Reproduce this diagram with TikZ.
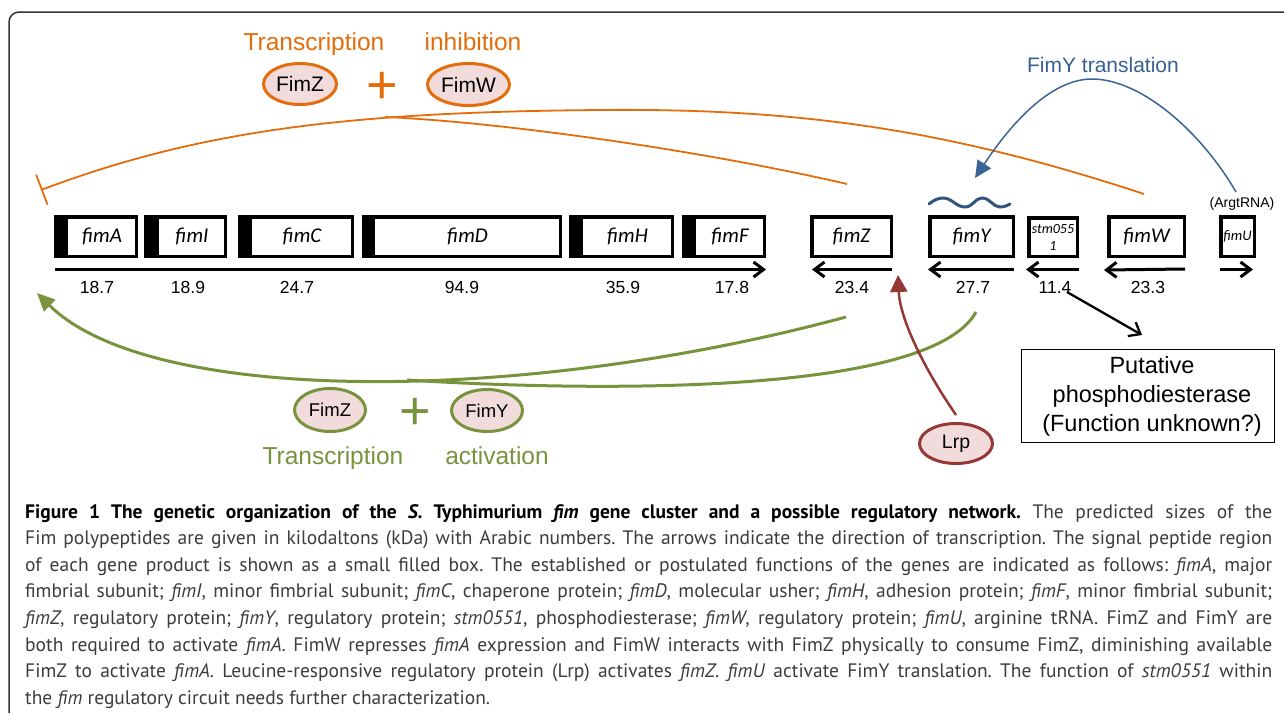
\documentclass[tikz,border=0pt]{standalone}
\usepackage{fontspec}
\setmainfont{Liberation Sans}
\newfontfamily\capfont{PT Sans}
\newfontfamily\genef{Carlito}
\usetikzlibrary{arrows.meta,shapes.geometric}
\definecolor{orng}{HTML}{E46C0A}
\definecolor{pinkf}{HTML}{F2DCDB}
\definecolor{grn}{HTML}{77933C}
\definecolor{dred}{HTML}{953735}
\definecolor{blu}{HTML}{3B6496}
\definecolor{blutext}{HTML}{376092}
\definecolor{capgray}{HTML}{3C3C3C}
\definecolor{framegray}{HTML}{333333}
\begin{document}
\begin{tikzpicture}[x=1pt,y=-1pt,
 gene/.style={draw, line width=3.5pt, minimum height=39.5pt, inner sep=0pt, font=\genef\itshape\fontsize{21}{24}\selectfont},
 sig/.style={path picture={\fill (path picture bounding box.north west) rectangle ([xshift=#1]path picture bounding box.south west);}},
 num/.style={font=\fontsize{17.5}{20}\selectfont, anchor=base, inner sep=0pt},
 garrow/.style={line width=3pt, -{Straight Barb[length=10pt,width=15pt]}},
 prot/.style={ellipse, draw, line width=3pt, fill=pinkf, inner sep=0pt},
 lbl/.style={anchor=base, inner sep=0pt},
 orngline/.style={draw=orng, line width=1.8pt},
 grnline/.style={draw=grn, line width=3pt},
]
\useasboundingbox (0,0) rectangle (1284,713);
% frame
\draw[framegray, line width=1.5pt, rounded corners=10pt] (9,713) -- (9,12) -- (1284,12);

% genes
\node[gene, sig=12.25pt, minimum width=80.5pt] (fimA) at (96,236.5) {\hspace*{12pt}fimA};
\node[gene, sig=13.25pt, minimum width=79.5pt] (fimI) at (185.5,236.5) {\hspace*{13pt}fimI};
\node[gene, sig=12.25pt, minimum width=112.5pt] (fimC) at (296,236.5) {\hspace*{12pt}fimC};
\node[gene, sig=11.25pt, minimum width=196.5pt] (fimD) at (462,236.5) {\hspace*{11pt}fimD};
\node[gene, sig=12.25pt, minimum width=101.5pt] (fimH) at (621.5,236.5) {\hspace*{12pt}fimH};
\node[gene, sig=12.25pt, minimum width=80.5pt] (fimF) at (724,236.5) {\hspace*{12pt}fimF};
\node[gene, minimum width=79.5pt] (fimZ) at (851.5,236.5) {fimZ};
\node[gene, minimum width=83.5pt] (fimY) at (971.5,236.5) {fimY};
\node[gene, minimum width=48.5pt, minimum height=38.5pt, align=center, font=\genef\itshape\fontsize{14}{17}\selectfont] (stm) at (1053,237) {stm055\\1};
\node[gene, minimum width=75.5pt] (fimW) at (1146.5,236.5) {fimW};
\node[gene, minimum width=33.5pt, font=\genef\itshape\fontsize{14.5}{16}\selectfont] (fimU) at (1237.5,236.5) {fimU};

% transcription arrows
\coordinate (a1s) at (55,269.5); \coordinate (a1e) at (766,269.5);
\coordinate (a2s) at (892,269.5); \coordinate (a2e) at (812,269.5);
\coordinate (a3s) at (1014,269.5); \coordinate (a3e) at (928,269.5);
\coordinate (a4s) at (1079,269.5); \coordinate (a4e) at (1026,269.5);
\coordinate (a5s) at (1185,269); \coordinate (a5e) at (1104,270);
\coordinate (a6s) at (1220,269.5); \coordinate (a6e) at (1253,269.5);
\draw[garrow] (a1s) -- (a1e);
\draw[garrow] (a2s) -- (a2e);
\draw[garrow] (a3s) -- (a3e);
\draw[garrow] (a4s) -- (a4e);
\draw[garrow] (a5s) -- (a5e);
\draw[garrow] (a6s) -- (a6e);

% sizes
\node[num] (n1) at (97,293) {18.7};
\node[num] (n2) at (188,293) {18.9};
\node[num] (n3) at (297,293) {24.7};
\node[num] (n4) at (462,293) {94.9};
\node[num] (n5) at (623,293) {35.9};
\node[num] (n6) at (732,293) {17.8};
\node[num] (n7) at (852,293) {23.4};
\node[num] (n8) at (973,293) {27.7};
\node[num] (n9) at (1055,293) {11.4};
\node[num] (n10) at (1148,293) {23.3};
\node[lbl, font=\fontsize{14}{16}\selectfont] (argt) at (1242,207) {(ArgtRNA)};

% orange: transcription inhibition
\node[lbl, text=orng, font=\fontsize{24.5}{28}\selectfont] (oT) at (314,50) {Transcription};
\node[lbl, text=orng, font=\fontsize{24.5}{28}\selectfont] (oI) at (473,50) {inhibition};
\node[prot, draw=orng, minimum width=73pt, minimum height=41pt, font=\fontsize{21}{24}\selectfont] (oZ) at (300,84) {FimZ};
\node[prot, draw=orng, minimum width=82pt, minimum height=42pt, font=\fontsize{21}{24}\selectfont] (oW) at (468.5,84.5) {FimW};
\node[text=orng, font=\fontsize{54}{54}\selectfont, inner sep=0pt] (oplus) at (382,88) {+};
\coordinate (wstart) at (1144,194);
\coordinate (wtop) at (600,110);
\coordinate (barend) at (41,190);
\coordinate (zstart) at (847,184);
\coordinate (zmerge) at (385,117);
\draw[orngline, -{Bar[width=32pt]}] (wstart) .. controls (950,130) and (800,108) .. (wtop) .. controls (350,112) and (200,130) .. (barend);
\draw[orngline] (zstart) .. controls (700,150) and (500,122) .. (zmerge);

% blue: FimY translation
\node[lbl, text=blutext, font=\fontsize{21}{24}\selectfont] (bT) at (1103,72) {FimY translation};
\coordinate (bstart) at (1236,192);
\coordinate (btop) at (1092,79);
\coordinate (btip) at (975,178);
\draw[blu, line width=1.5pt, -{Triangle[length=17pt,width=16pt]}] (bstart) .. controls (1200,130) and (1140,79) .. (btop) .. controls (1050,79) and (1010,125) .. (btip);
\draw[blu!85!black, line width=3pt, line cap=round] (929,204) .. controls (934,200) and (938,198) .. (943,198) .. controls (952,198) and (956,207) .. (965,207) .. controls (973,207) and (975,198) .. (982,198) .. controls (990,198) and (993,207) .. (1000,207) .. controls (1005,207) and (1008,205) .. (1010,204);

% green: transcription activation
\node[prot, draw=grn, minimum width=71pt, minimum height=43pt, font=\fontsize{18.5}{22}\selectfont] (gZ) at (330,410) {FimZ};
\node[prot, draw=grn, minimum width=71pt, minimum height=42pt, font=\fontsize{18.5}{22}\selectfont] (gY) at (487,410.5) {FimY};
\node[text=grn, font=\fontsize{54}{54}\selectfont, inner sep=0pt] (gplus) at (415,414) {+};
\node[lbl, text=grn, font=\fontsize{24.5}{28}\selectfont] (gT) at (333,464) {Transcription};
\node[lbl, text=grn, font=\fontsize{24.5}{28}\selectfont] (gA) at (497,464) {activation};
\coordinate (gzs) at (846,317);
\coordinate (gys) at (976,312);
\coordinate (gmerge) at (407,380);
\coordinate (gtip) at (37,293);
\draw[grnline, -{Triangle[length=18pt,width=16pt]}] (gzs) .. controls (520,405) and (150,405) .. (gtip);
\draw[grnline] (gys) .. controls (930,395) and (600,392) .. (gmerge);

% Lrp
\node[prot, draw=dred, minimum width=73pt, minimum height=40pt, font=\fontsize{19.5}{22}\selectfont] (lrp) at (956,443.5) {Lrp};
\coordinate (rtip) at (898,275);
\draw[dred, line width=2.5pt, -{Triangle[length=17pt,width=17pt]}] ([yshift=7pt]lrp.north) .. controls (925,370) and (900,320) .. (rtip);

% putative phosphodiesterase
\node[draw, line width=1.3pt, minimum width=252.7pt, minimum height=92.7pt, inner sep=0pt, align=center, font=\fontsize{23.5}{29}\selectfont] (pbox) at (1148,396) {\hspace*{8pt}Putative\\\hspace*{8pt}phosphodiesterase\\\hspace*{8pt}(Function unknown?)};
\coordinate (ps) at (1067,292);
\coordinate (pe) at (1142,335);
\draw[line width=2.3pt, -{Straight Barb[length=10pt,width=16pt]}] (ps) -- (pe);

% caption
\node[anchor=north west, inner sep=0pt, text width=1247pt, align=justify, text=capgray, font=\capfont\fontsize{19.5}{26.6}\selectfont] (cap) at (25,504) {\frenchspacing\hyphenpenalty=10000\exhyphenpenalty=10000
{\color{black}\bfseries Figure 1 The genetic organization of the \textit{S.} Typhimurium \textit{fim} gene cluster and a possible regulatory network.} The predicted sizes of the\linebreak
Fim polypeptides are given in kilodaltons (kDa) with Arabic numbers. The arrows indicate the direction of transcription. The signal peptide region\linebreak
of each gene product is shown as a small filled box. The established or postulated functions of the genes are indicated as follows: \textit{fimA}, major\linebreak
fimbrial subunit; \textit{fimI}, minor fimbrial subunit; \textit{fimC}, chaperone protein; \textit{fimD}, molecular usher; \textit{fimH}, adhesion protein; \textit{fimF}, minor fimbrial subunit;\linebreak
\textit{fimZ}, regulatory protein; \textit{fimY}, regulatory protein; \textit{stm0551}, phosphodiesterase; \textit{fimW}, regulatory protein; \textit{fimU}, arginine tRNA. FimZ and FimY are\linebreak
both required to activate \textit{fimA}. FimW represses \textit{fimA} expression and FimW interacts with FimZ physically to consume FimZ, diminishing available\linebreak
FimZ to activate \textit{fimA}. Leucine-responsive regulatory protein (Lrp) activates \textit{fimZ}. \textit{fimU} activate FimY translation. The function of \textit{stm0551} within\linebreak
the \textit{fim} regulatory circuit needs further characterization.};
\end{tikzpicture}
\end{document}
